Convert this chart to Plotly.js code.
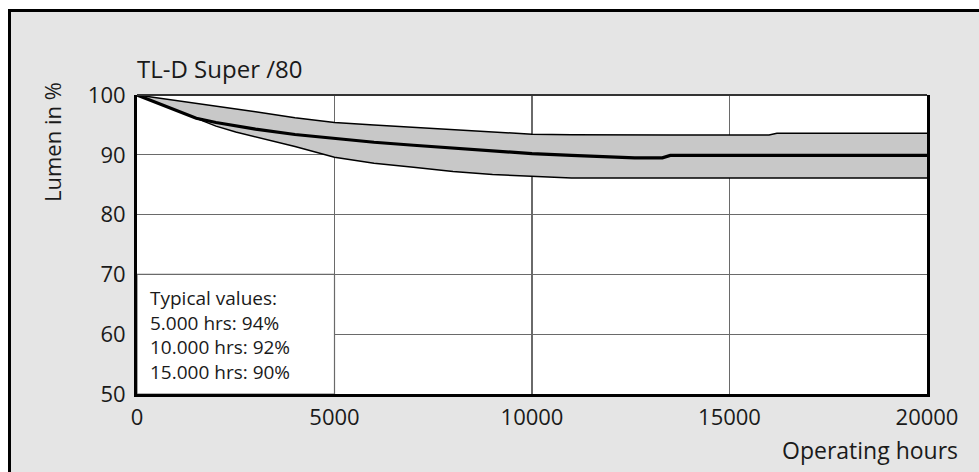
<!DOCTYPE html>
<html>
<head>
<meta charset="utf-8">
<script src="https://cdn.plot.ly/plotly-3.0.1.min.js"></script>
<style>
  html, body { margin: 0; padding: 0; background: #ffffff; width: 979px; height: 472px; overflow: hidden; }
  #frame { position: absolute; left: 8px; top: 9px; width: 1000px; height: 500px; border: 3px solid #000; background: #e5e5e5; }
  #chart { position: absolute; left: 0; top: 0; width: 979px; height: 472px; }
</style>
</head>
<body>
<div id="frame"></div>
<div id="chart"></div>
<script>
// Operating hours
const hours  = [0, 500, 1000, 1500, 2000, 2500, 3000, 4000, 5000, 6000, 7000, 8000, 9000, 10000, 11000, 12000, 12600, 13300, 13500, 15000, 16000, 16200, 17000, 18000, 19000, 20000];
// Upper limit of the band (lumen %)
const upper  = [100, 99.55, 99.1, 98.6, 98.1, 97.65, 97.2, 96.2, 95.4, 95.0, 94.6, 94.2, 93.8, 93.45, 93.35, 93.3, 93.3, 93.3, 93.3, 93.3, 93.3, 93.6, 93.6, 93.6, 93.6, 93.6];
// Typical (average) curve
const middle = [100, 98.7, 97.4, 96.1, 95.4, 94.8, 94.3, 93.4, 92.7, 92.1, 91.6, 91.1, 90.6, 90.2, 89.9, 89.7, 89.5, 89.5, 89.9, 89.9, 89.9, 89.9, 89.9, 89.9, 89.9, 89.9];
// Lower limit of the band
const lower  = [100, 98.7, 97.4, 96.1, 94.8, 93.8, 93.0, 91.4, 89.6, 88.6, 87.9, 87.2, 86.7, 86.35, 86.1, 86.1, 86.1, 86.1, 86.1, 86.1, 86.1, 86.1, 86.1, 86.1, 86.1, 86.1];

const xTicks = [0, 5000, 10000, 15000, 20000];
const yTicks = [50, 60, 70, 80, 90, 100];

const chartTitle = 'TL-D Super /80';
const yLabel = 'Lumen in %';
const xLabel = 'Operating hours';
const typicalText = ['Typical values:', '5.000 hrs: 94%', '10.000 hrs: 92%', '15.000 hrs: 90%'];

const FONT = 'Open Sans, DejaVu Sans, sans-serif';
const GRID = '#6a6a6a';

const traces = [
  { x: hours, y: lower, type: 'scatter', mode: 'lines', line: { color: '#000', width: 1.5 }, hoverinfo: 'skip', showlegend: false },
  { x: hours, y: upper, type: 'scatter', mode: 'lines', line: { color: '#000', width: 1.5 }, fill: 'tonexty', fillcolor: '#c8c8c8', hoverinfo: 'skip', showlegend: false },
  { x: hours, y: middle, type: 'scatter', mode: 'lines', line: { color: '#000', width: 3.2 }, hoverinfo: 'skip', showlegend: false }
];

const layout = {
  width: 979, height: 472,
  margin: { l: 137, r: 52, t: 95, b: 78 },
  paper_bgcolor: 'rgba(0,0,0,0)',
  plot_bgcolor: '#ffffff',
  font: { family: FONT, color: '#1a1a1a', size: 22 },
  title: { text: chartTitle, x: 0, xref: 'paper', xanchor: 'left', y: 1 - 70 / 472, yref: 'container', yanchor: 'middle', font: { family: FONT, size: 24, color: '#1a1a1a' } },
  xaxis: {
    range: [0, 20000], tickvals: xTicks, ticktext: xTicks.map(String),
    showgrid: true, gridcolor: GRID, gridwidth: 1.2,
    showline: true, linecolor: '#000', linewidth: 3,
    zeroline: false, ticks: '', ticklabelstandoff: 2,
    tickfont: { family: FONT, size: 22, color: '#1a1a1a' }, fixedrange: true
  },
  yaxis: {
    range: [50, 100], tickvals: yTicks, ticktext: yTicks.map(String),
    showgrid: true, gridcolor: GRID, gridwidth: 1.2,
    showline: true, linecolor: '#000', linewidth: 3, mirror: true,
    zeroline: false, ticks: '', ticklabelstandoff: 4,
    tickfont: { family: FONT, size: 22, color: '#1a1a1a' }, fixedrange: true
  },
  shapes: [
    { type: 'rect', xref: 'x', yref: 'y', x0: 0, x1: 5000, y0: 50, y1: 70, fillcolor: '#ffffff', line: { color: GRID, width: 1.2 }, layer: 'between' },
    { type: 'line', xref: 'paper', yref: 'paper', x0: 0, x1: 1, y0: 1, y1: 1, line: { color: '#333', width: 2 }, layer: 'above' }
  ],
  annotations: [
    { text: typicalText.join('<br>'), xref: 'paper', x: 11 / 790, xanchor: 'left', yref: 'y', y: 59.8, yanchor: 'middle', align: 'left', showarrow: false, font: { family: FONT, size: 19, color: '#1a1a1a' } },
    { text: xLabel, xref: 'paper', x: (960 - 137) / 790, xanchor: 'right', yref: 'paper', y: -(450 - 394) / 299, yanchor: 'middle', showarrow: false, font: { family: FONT, size: 23, color: '#1a1a1a' } },
    { text: yLabel, textangle: -90, xref: 'paper', x: (52 - 137) / 790, xanchor: 'center', yref: 'paper', y: (394 - 142) / 299, yanchor: 'middle', showarrow: false, font: { family: FONT, size: 22, color: '#1a1a1a' } }
  ]
};

Plotly.newPlot('chart', traces, layout, { displayModeBar: false, staticPlot: true });
</script>
</body>
</html>
